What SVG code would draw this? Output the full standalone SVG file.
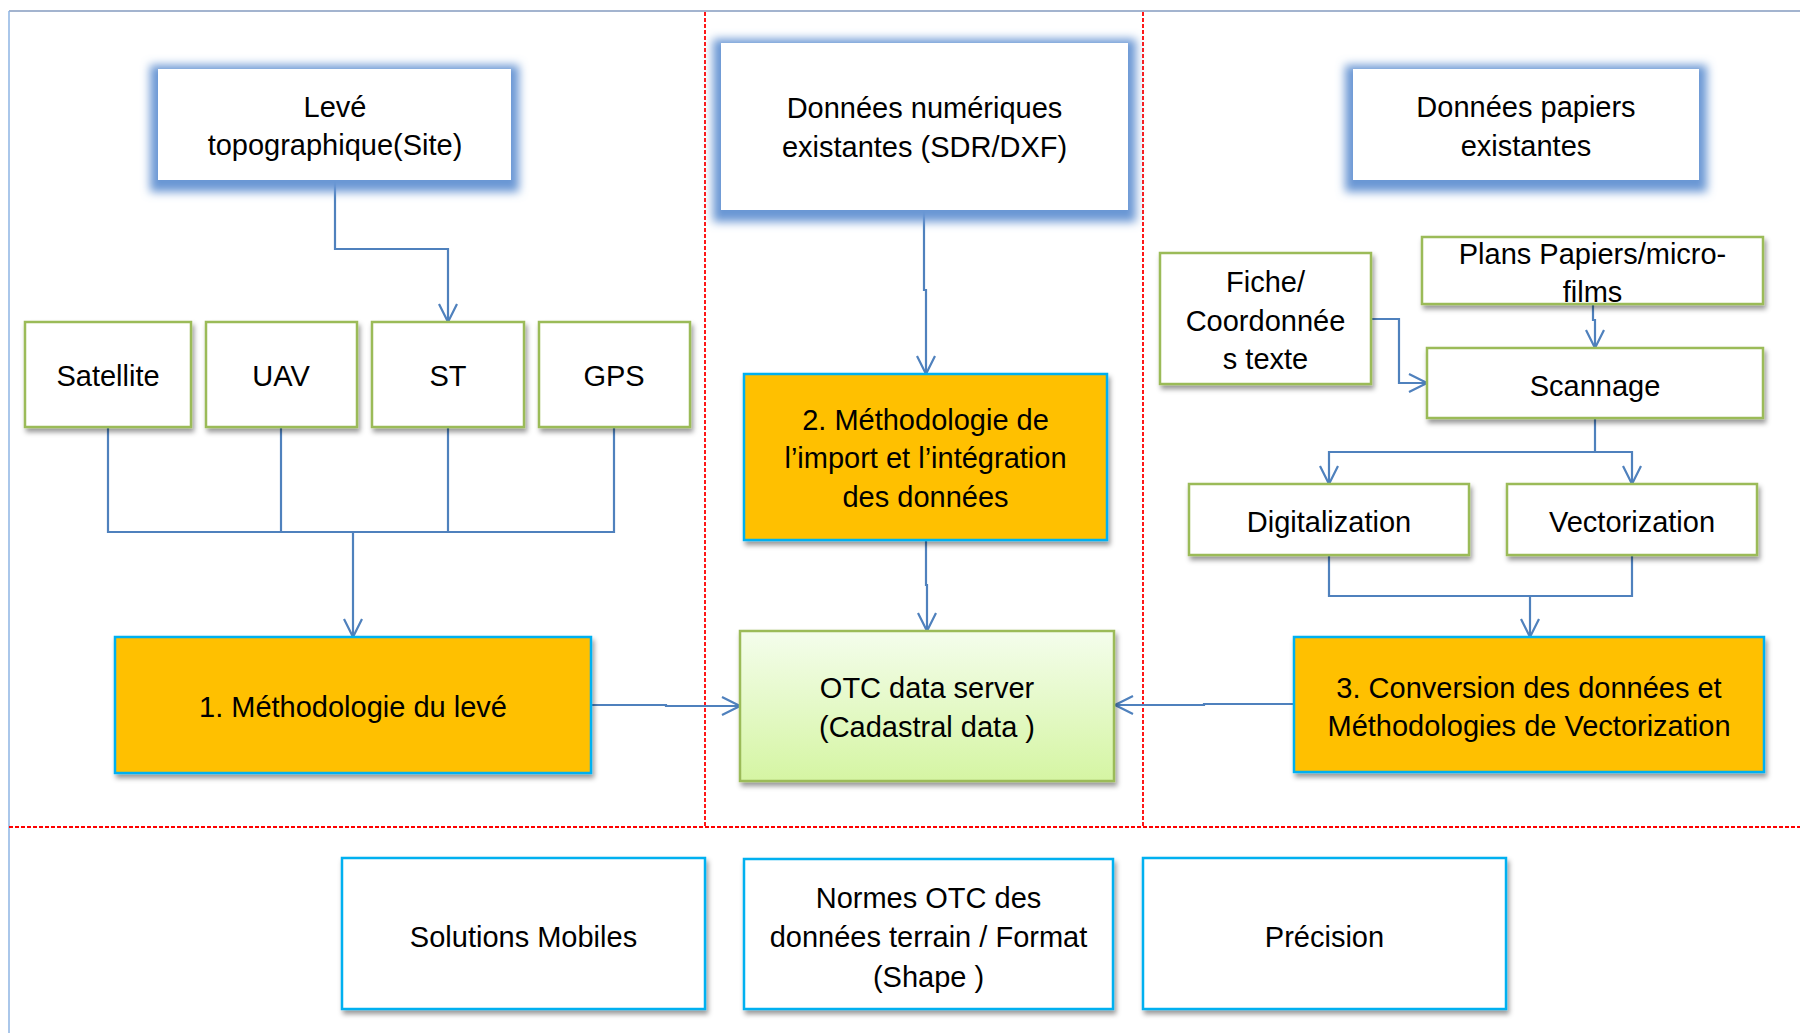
<svg xmlns="http://www.w3.org/2000/svg" width="1800" height="1033" viewBox="0 0 1800 1033">
<style>
text{font-family:"Liberation Sans",Arial,sans-serif;font-size:29px;fill:#000;text-anchor:middle}
.w{fill:#fff}
.g{fill:#fff;stroke:#9bbb59;stroke-width:2.5}
.o{fill:#ffc000;stroke:#00b0f0;stroke-width:2.5}
.c{fill:#fff;stroke:#00b0f0;stroke-width:2.5}
.red{stroke:#ff0000;stroke-width:1.8;stroke-dasharray:4 2;fill:none}
.con path{fill:none;stroke:#4f81bd;stroke-width:2.2}
</style>
<defs>
<filter id="glow" x="-20%" y="-30%" width="140%" height="170%">
<feMorphology in="SourceAlpha" operator="dilate" radius="8" result="d"/>
<feGaussianBlur in="d" stdDeviation="5" result="b"/>
<feOffset in="b" dy="4" result="o"/>
<feFlood flood-color="#6a97d4" flood-opacity="1"/>
<feComposite in2="o" operator="in" result="gl"/>
<feMerge><feMergeNode in="gl"/><feMergeNode in="SourceGraphic"/></feMerge>
</filter>
<filter id="sh" x="-10%" y="-10%" width="125%" height="130%">
<feGaussianBlur in="SourceAlpha" stdDeviation="2.5" result="b"/>
<feOffset in="b" dx="2" dy="4" result="o"/>
<feFlood flood-color="#000" flood-opacity="0.4"/>
<feComposite in2="o" operator="in" result="s"/>
<feMerge><feMergeNode in="s"/><feMergeNode in="SourceGraphic"/></feMerge>
</filter>
<linearGradient id="gr" x1="0" y1="0" x2="0" y2="1">
<stop offset="0" stop-color="#f4fdec"/>
<stop offset="1" stop-color="#d5f5a3"/>
</linearGradient>
<marker id="ar" viewBox="0 0 20 20" refX="19" refY="10" markerWidth="20" markerHeight="20" markerUnits="userSpaceOnUse" orient="auto">
<path d="M1,1 L19,10 L1,19" fill="none" stroke="#4f81bd" stroke-width="2.2"/>
</marker>
</defs>
<rect width="1800" height="1033" fill="#fff"/>
<g id="frame">
<line x1="9" y1="11" x2="1800" y2="11" stroke="#a3b4cf" stroke-width="2"/>
<line x1="9" y1="11" x2="9" y2="1033" stroke="#8eb4e3" stroke-width="1.5"/>
<line class="red" x1="705" y1="12" x2="705" y2="827"/>
<line class="red" x1="1143" y1="12" x2="1143" y2="827"/>
<line class="red" x1="9" y1="827" x2="1800" y2="827"/>
</g>
<g class="con" id="connectors">
<path d="M335,180 V249 H448 V322" marker-end="url(#ar)"/>
<path d="M108,427 V532 H614 V427"/>
<path d="M281,427 V532"/>
<path d="M448,427 V532"/>
<path d="M353,532 V637" marker-end="url(#ar)"/>
<path d="M591,705 H666 V706 H740" marker-end="url(#ar)"/>
<path d="M924,210 V290 H926 V374" marker-end="url(#ar)"/>
<path d="M926,540 V585 H927 V631" marker-end="url(#ar)"/>
<path d="M1294,704 H1204 V705 H1115" marker-end="url(#ar)"/>
<path d="M1371,319 H1399 V383 H1427" marker-end="url(#ar)"/>
<path d="M1593,304 V320 H1595 V348" marker-end="url(#ar)"/>
<path d="M1595,418 V452"/>
<path d="M1463,452 H1329 V484" marker-end="url(#ar)"/>
<path d="M1463,452 H1632 V484" marker-end="url(#ar)"/>
<path d="M1329,555 V596 H1632 V555"/>
<path d="M1530,596 V637" marker-end="url(#ar)"/>
</g>
<g id="leve"><rect class="w" x="158" y="69" width="353" height="111" filter="url(#glow)"/><text x="335" y="117">Levé</text><text x="335" y="155">topographique(Site)</text></g>
<g id="numeriques"><rect class="w" x="721" y="43" width="407" height="167" filter="url(#glow)"/><text x="924.5" y="118">Données numériques</text><text x="924.5" y="157">existantes (SDR/DXF)</text></g>
<g id="papiers"><rect class="w" x="1353" y="69" width="346" height="111" filter="url(#glow)"/><text x="1526" y="117">Données papiers</text><text x="1526" y="156">existantes</text></g>
<g id="satellite"><rect class="g" x="25" y="322" width="166" height="105" filter="url(#sh)"/><text x="108" y="386">Satellite</text></g>
<g id="uav"><rect class="g" x="206" y="322" width="151" height="105" filter="url(#sh)"/><text x="281" y="386">UAV</text></g>
<g id="st"><rect class="g" x="372" y="322" width="152" height="105" filter="url(#sh)"/><text x="448" y="386">ST</text></g>
<g id="gps"><rect class="g" x="539" y="322" width="151" height="105" filter="url(#sh)"/><text x="614" y="386">GPS</text></g>
<g id="methodo1"><rect class="o" x="115" y="637" width="476" height="136" filter="url(#sh)"/><text x="353" y="717">1. Méthodologie du levé</text></g>
<g id="methodo2"><rect class="o" x="744" y="374" width="363" height="166" filter="url(#sh)"/><text x="925.5" y="430">2. Méthodologie de</text><text x="925.5" y="468">l’import et l’intégration</text><text x="925.5" y="507">des données</text></g>
<g id="otc"><rect x="740" y="631" width="374" height="150" fill="url(#gr)" stroke="#9bbb59" stroke-width="2.5" filter="url(#sh)"/><text x="927" y="698">OTC data server</text><text x="927" y="737">(Cadastral data )</text></g>
<g id="fiche"><rect class="g" x="1160" y="253" width="211" height="131" filter="url(#sh)"/><text x="1265.5" y="292">Fiche/</text><text x="1265.5" y="331">Coordonnée</text><text x="1265.5" y="369">s texte</text></g>
<g id="plans"><rect class="g" x="1422" y="237" width="341" height="67" filter="url(#sh)"/><text x="1592.5" y="264">Plans Papiers/micro-</text><text x="1592.5" y="302">films</text></g>
<g id="scannage"><rect class="g" x="1427" y="348" width="336" height="70" filter="url(#sh)"/><text x="1595" y="396">Scannage</text></g>
<g id="digitalization"><rect class="g" x="1189" y="484" width="280" height="71" filter="url(#sh)"/><text x="1329" y="532">Digitalization</text></g>
<g id="vectorization"><rect class="g" x="1507" y="484" width="250" height="71" filter="url(#sh)"/><text x="1632" y="532">Vectorization</text></g>
<g id="conversion"><rect class="o" x="1294" y="637" width="470" height="135" filter="url(#sh)"/><text x="1529" y="698">3. Conversion des données et</text><text x="1529" y="736">Méthodologies de Vectorization</text></g>
<g id="mobiles"><rect class="c" x="342" y="858" width="363" height="151" filter="url(#sh)"/><text x="523.5" y="947">Solutions Mobiles</text></g>
<g id="normes"><rect class="c" x="744" y="859" width="369" height="150" filter="url(#sh)"/><text x="928.5" y="908">Normes OTC des</text><text x="928.5" y="947">données terrain / Format</text><text x="928.5" y="987">(Shape )</text></g>
<g id="precision"><rect class="c" x="1143" y="858" width="363" height="151" filter="url(#sh)"/><text x="1324.5" y="947">Précision</text></g>
</svg>
